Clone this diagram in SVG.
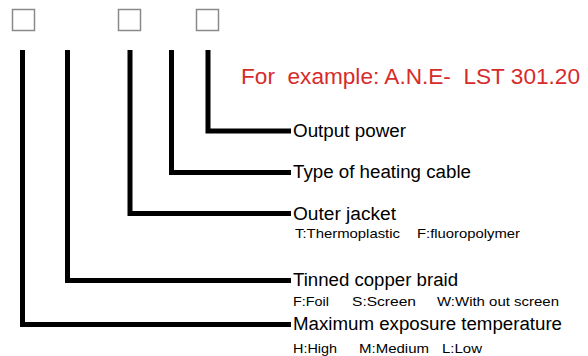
<svg xmlns="http://www.w3.org/2000/svg" width="588" height="356" viewBox="0 0 588 356">
<style>
.box{fill:#fff;stroke:#8a8a8a;stroke-width:1.5}
.ln{fill:none;stroke:#000;stroke-width:5;stroke-linejoin:miter;stroke-linecap:butt}
.lbl{font-family:"Liberation Sans",Arial,sans-serif;font-size:18px;fill:#000}
.sub{font-family:"Liberation Sans",Arial,sans-serif;font-size:13.5px;fill:#000}
.ex{font-family:"Liberation Sans",Arial,sans-serif;font-size:22px;fill:#d62b2b}
</style>
<rect width="588" height="356" fill="#fff"/>
<g id="box1"><rect class="box" x="12.5" y="9.5" width="22" height="21"/></g>
<g id="box2"><rect class="box" x="118.5" y="9.5" width="22" height="21"/></g>
<g id="box3"><rect class="box" x="196.5" y="9.5" width="22" height="21"/></g>
<g id="connectors">
<path class="ln" d="M22.5 50 V324.5 H291"/>
<path class="ln" d="M67.5 50 V280.5 H291"/>
<path class="ln" d="M130 50 V213.5 H291"/>
<path class="ln" d="M171.5 50 V172.5 H291"/>
<path class="ln" d="M208 50 V131 H291"/>
</g>
<g id="example"><text class="ex" x="241" y="84" textLength="339" lengthAdjust="spacingAndGlyphs" xml:space="preserve">For  example: A.N.E-  LST 301.20</text></g>
<g id="output-power"><text class="lbl" x="293" y="136.5" textLength="113" lengthAdjust="spacingAndGlyphs">Output power</text></g>
<g id="heating-cable"><text class="lbl" x="293" y="178" textLength="178" lengthAdjust="spacingAndGlyphs">Type of heating cable</text></g>
<g id="outer-jacket">
<text class="lbl" x="293" y="219.5" textLength="103" lengthAdjust="spacingAndGlyphs">Outer jacket</text>
<text class="sub" x="295" y="238" textLength="105" lengthAdjust="spacingAndGlyphs">T:Thermoplastic</text>
<text class="sub" x="417" y="238" textLength="103" lengthAdjust="spacingAndGlyphs">F:fluoropolymer</text>
</g>
<g id="braid">
<text class="lbl" x="293" y="286" textLength="165" lengthAdjust="spacingAndGlyphs">Tinned copper braid</text>
<text class="sub" x="293" y="305.5" textLength="36" lengthAdjust="spacingAndGlyphs">F:Foil</text>
<text class="sub" x="352" y="305.5" textLength="64" lengthAdjust="spacingAndGlyphs">S:Screen</text>
<text class="sub" x="437" y="305.5" textLength="122" lengthAdjust="spacingAndGlyphs">W:With out screen</text>
</g>
<g id="max-temp">
<text class="lbl" x="293" y="330" textLength="269" lengthAdjust="spacingAndGlyphs">Maximum exposure temperature</text>
<text class="sub" x="293" y="352.5" textLength="44" lengthAdjust="spacingAndGlyphs">H:High</text>
<text class="sub" x="359" y="352.5" textLength="70" lengthAdjust="spacingAndGlyphs">M:Medium</text>
<text class="sub" x="442" y="352.5" textLength="40" lengthAdjust="spacingAndGlyphs">L:Low</text>
</g>
</svg>
